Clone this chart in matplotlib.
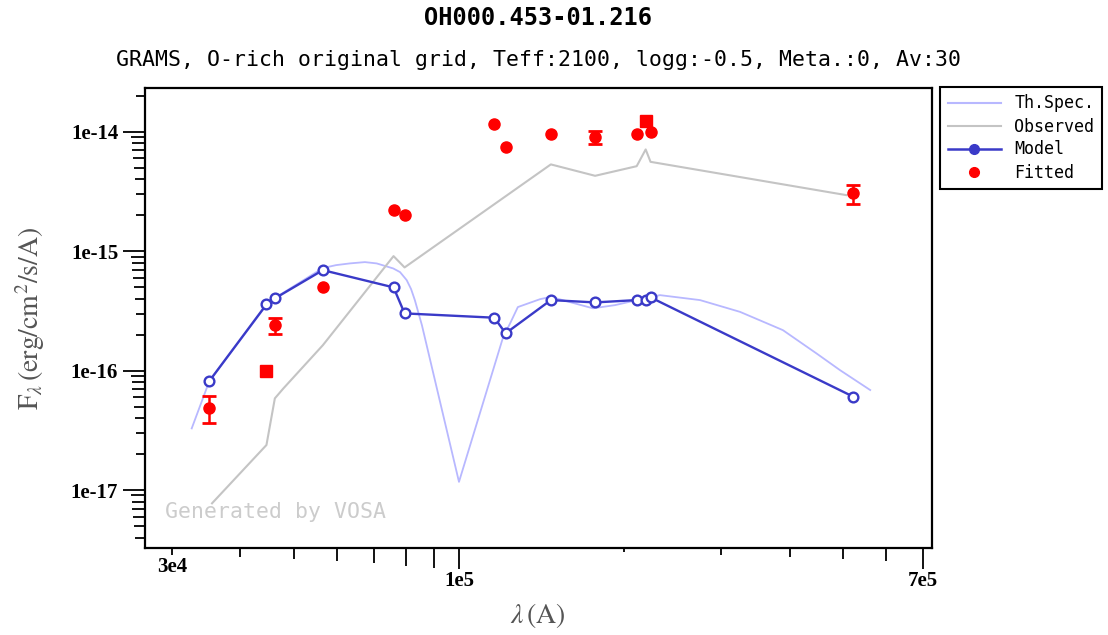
import matplotlib
matplotlib.use('Agg')
import matplotlib.pyplot as plt
from matplotlib.lines import Line2D
from matplotlib.ticker import NullFormatter

plt.rcParams['mathtext.fontset'] = 'stix'

title = 'OH000.453-01.216'
subtitle = 'GRAMS, O-rich original grid, Teff:2100, logg:-0.5, Meta.:0, Av:30'

# theoretical spectrum
spec_wl = [3.26e4, 3.51e4, 4.46e4, 4.62e4, 5.65e4, 5.97e4, 6.33e4, 6.74e4, 7.08e4, 7.59e4,
           7.81e4, 8.03e4, 8.18e4, 8.31e4, 8.56e4, 1.00e5, 1.204e5, 1.239e5, 1.28e5, 1.405e5,
           1.47e5, 1.593e5, 1.754e5, 1.924e5, 2.11e5, 2.323e5, 2.748e5, 3.25e5, 3.89e5,
           4.48e5, 4.94e5, 5.61e5]
spec_fl = [3.28e-17, 8.17e-17, 3.53e-16, 4.05e-16, 7.21e-16, 7.63e-16, 7.89e-16, 8.09e-16,
           7.89e-16, 7.16e-16, 6.67e-16, 5.72e-16, 4.81e-16, 3.89e-16, 2.40e-16, 1.17e-17,
           1.92e-16, 2.48e-16, 3.40e-16, 3.96e-16, 4.14e-16, 3.74e-16, 3.32e-16, 3.53e-16,
           3.89e-16, 4.28e-16, 3.89e-16, 3.10e-16, 2.18e-16, 1.39e-16, 1.01e-16, 6.87e-17]

# observed
obs_wl = [3.55e4, 4.46e4, 4.62e4, 4.79e4, 5.65e4, 7.60e4, 7.96e4, 1.47e5, 1.77e5,
          2.107e5, 2.188e5, 2.233e5, 5.08e5]
obs_fl = [7.74e-18, 2.38e-17, 5.85e-17, 7.10e-17, 1.63e-16, 9.08e-16, 7.30e-16, 5.32e-15,
          4.27e-15, 5.14e-15, 7.10e-15, 5.59e-15, 2.94e-15]

# model photometry
mod_wl = [3.51e4, 4.46e4, 4.62e4, 5.65e4, 7.60e4, 7.96e4, 1.16e5, 1.216e5, 1.47e5,
          1.77e5, 2.107e5, 2.188e5, 2.233e5, 5.23e5]
mod_fl = [8.17e-17, 3.58e-16, 4.02e-16, 6.93e-16, 4.97e-16, 3.01e-16, 2.77e-16, 2.05e-16,
          3.89e-16, 3.72e-16, 3.89e-16, 3.89e-16, 4.10e-16, 6.03e-17]

# fitted photometry
fit_wl = mod_wl
fit_fl = [4.88e-17, 9.96e-17, 2.40e-16, 4.97e-16, 2.20e-15, 2.00e-15, 1.17e-14, 7.38e-15,
          9.47e-15, 9.05e-15, 9.47e-15, 1.225e-14, 9.96e-15, 3.04e-15]
fit_err = [1.25e-17, 0, 3.7e-17, 0, 0, 0, 0, 0, 0, 1.1e-15, 0, 0, 0, 5.4e-16]
fit_sq = [0, 1, 0, 0, 0, 0, 0, 0, 0, 0, 0, 1, 0, 0]

xmajor = [3e4, 1e5, 7e5]
xmajor_lbl = ['3e4', '1e5', '7e5']
xminor = [4e4, 5e4, 6e4, 7e4, 8e4, 9e4, 2e5, 3e5, 4e5, 5e5, 6e5]
ymajor = [1e-17, 1e-16, 1e-15, 1e-14]
ymajor_lbl = ['1e-17', '1e-16', '1e-15', '1e-14']

c_spec = '#b8b8ff'
c_obs = '#c4c4c4'
c_mod = '#3a3ac8'
c_fit = '#ff0000'

fig = plt.figure(figsize=(11.08, 6.35), dpi=100)
ax = fig.add_axes([145/1108, 87/635, 787/1108, 460/635])
ax.set_xscale('log')
ax.set_yscale('log')

ax.plot(spec_wl, spec_fl, color=c_spec, lw=1.3, zorder=2)
ax.plot(obs_wl, obs_fl, color=c_obs, lw=1.5, zorder=3)
ax.plot(mod_wl, mod_fl, color=c_mod, lw=1.7, marker='o', ms=7, mfc='white',
        mec=c_mod, mew=1.7, zorder=4)

for w, f, e, s in zip(fit_wl, fit_fl, fit_err, fit_sq):
    mk = 's' if s else 'o'
    if e > 0:
        ax.errorbar([w], [f], yerr=[e], fmt=mk, color=c_fit, ms=8, elinewidth=1.8,
                    capsize=5, capthick=2, zorder=5)
    else:
        ax.plot([w], [f], mk, color=c_fit, ms=8, zorder=5)

ax.set_xlim(2.68e4, 7.27e5)
ax.set_ylim(3.27e-18, 2.32e-14)

for sp in ax.spines.values():
    sp.set_linewidth(1.6)

tfont = dict(family='Liberation Serif', weight='bold', size=15)
ax.tick_params(which='both', direction='out', length=8, width=1.3, pad=2)
ax.set_xticks(xmajor)
ax.set_xticklabels(xmajor_lbl, fontdict=tfont)
ax.set_xticks(xminor, minor=True)
ax.xaxis.set_minor_formatter(NullFormatter())

yminor = []
for k in range(-18, -13):
    for m in range(2, 10):
        v = m * 10.0**k
        if 3.27e-18 <= v <= 2.32e-14:
            yminor.append(v)
ax.set_yticks(ymajor)
ax.set_yticklabels(ymajor_lbl, fontdict=tfont)
ax.set_yticks(yminor, minor=True)
ax.yaxis.set_minor_formatter(NullFormatter())

px = 0.72  # pixels -> points


def mant(v):
    s = '%e' % v
    return float(s.split('e')[0])


for t, v in zip(ax.xaxis.get_major_ticks(), xmajor):
    L = 21 if v in (1e5, 7e5) else 2.2 * mant(v)
    t.set_pad(L * px + 1.5 - 8)
    t.tick1line.set_markersize(L * px)
for t, v in zip(ax.xaxis.get_minor_ticks(), xminor):
    t.tick1line.set_markersize(2.2 * mant(v) * px)
for t in ax.yaxis.get_major_ticks():
    t.set_pad(22 * px + 3.5 - 8)
    t.tick1line.set_markersize(22 * px)
for t, v in zip(ax.yaxis.get_minor_ticks(), yminor):
    t.tick1line.set_markersize((7 + 0.8 * mant(v)) * px)

ax.text(0.025, 0.078, 'Generated by VOSA', transform=ax.transAxes,
        family='DejaVu Sans Mono', fontsize=15.5, color='#cccccc', va='center')

fig.text(538/1108, 1 - 18/635, title, ha='center', va='center',
         family='DejaVu Sans Mono', weight='bold', fontsize=17)
fig.text(538/1108, 1 - 60/635, subtitle, ha='center', va='center',
         family='DejaVu Sans Mono', fontsize=15.5)
fig.text(538/1108, 1 - 615/635, r'$\lambda\,\mathrm{(A)}$', ha='center', va='center',
         fontsize=20, color='#555555')
fig.text(30/1108, 1 - 318/635, r'$\mathrm{F}_{\lambda}\,\mathrm{(erg/cm^{2}/s/A)}$',
         rotation=90, ha='center', va='center', fontsize=20, color='#555555')

handles = [
    Line2D([], [], color=c_spec, lw=1.5),
    Line2D([], [], color=c_obs, lw=1.5),
    Line2D([], [], color=c_mod, lw=1.8, marker='o', ms=7, mfc=c_mod, mec=c_mod),
    Line2D([], [], ls='none', marker='o', color=c_fit, ms=7),
]
labels = ['Th.Spec.', 'Observed', 'Model', 'Fitted']
leg = fig.legend(handles, labels, loc='upper left', bbox_to_anchor=(940/1108, 1 - 87/635),
                 prop=dict(family='DejaVu Sans Mono', size=12), fancybox=False,
                 edgecolor='black', framealpha=1, handlelength=3.2, borderpad=0.45,
                 labelspacing=0.3, borderaxespad=0)
leg.get_frame().set_linewidth(1.5)

fig.savefig('out.png', dpi=100)
